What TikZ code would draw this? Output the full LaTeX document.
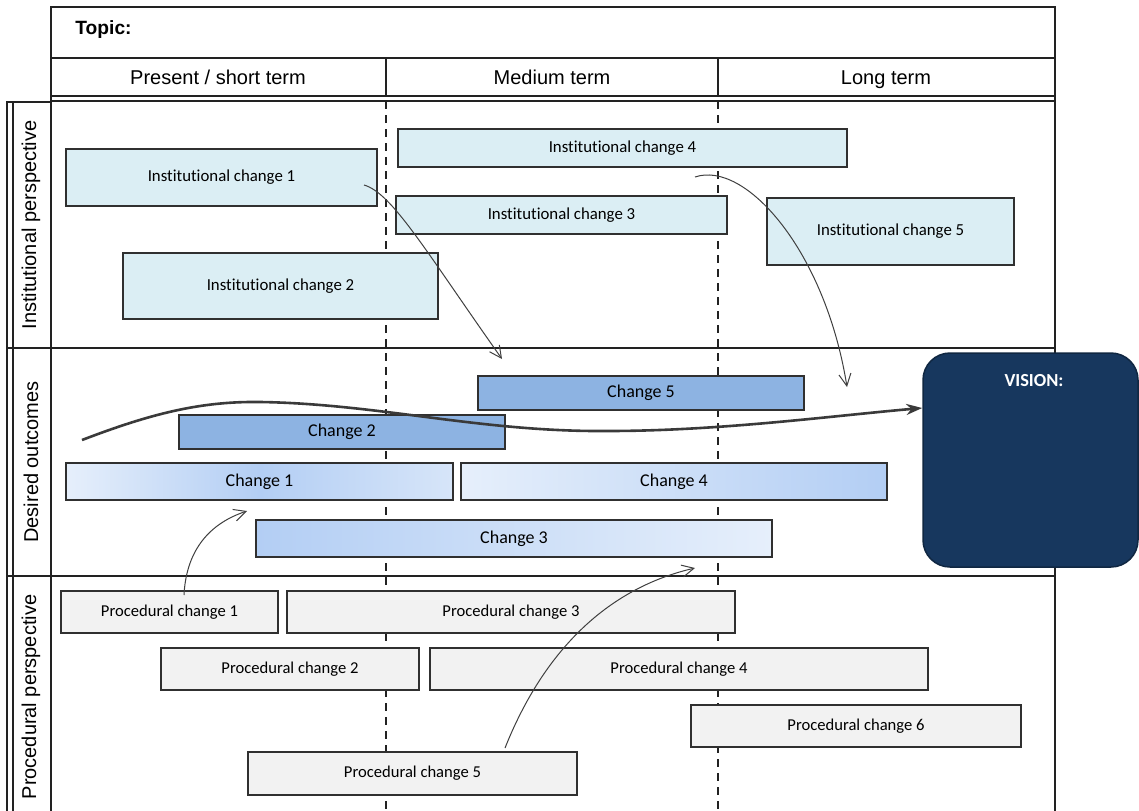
\documentclass[tikz,border=0pt]{standalone}
\usepackage{fontspec}
\setmainfont{Carlito}[Ligatures=NoCommon]
\newfontfamily\arialf{Liberation Sans}
\usetikzlibrary{arrows.meta}
\definecolor{framecol}{HTML}{222222}
\definecolor{bordercol}{HTML}{303030}
\definecolor{instfill}{HTML}{DBEEF4}
\definecolor{procfill}{HTML}{F2F2F2}
\definecolor{midblue}{HTML}{8DB3E2}
\definecolor{lightA}{HTML}{E6EFFB}
\definecolor{darkA}{HTML}{B3CEF4}
\definecolor{visionfill}{HTML}{17375E}
\definecolor{arrowcol}{HTML}{404040}
\newcommand\mybox[7]{%
  \pgfmathsetmacro\bw{(#5-#3)*0.5}\pgfmathsetmacro\bh{(#6-#4)*0.5}%
  \node[#2, minimum width=\bw pt, minimum height=\bh pt] (#1) at ({(#3+#5)/2},{(#4+#6)/2}) {#7};}
\begin{document}
\begin{tikzpicture}[x=0.5pt,y=-0.5pt,
  frame/.style={draw=framecol, line width=0.9pt},
  thinframe/.style={draw=framecol, line width=0.6pt},
  divider/.style={draw=framecol, line width=0.8pt, dash pattern=on 4pt off 3pt},
  basebox/.style={draw=bordercol, line width=0.75pt, rectangle, inner sep=0pt},
  instbox/.style={basebox, fill=instfill, font=\fontsize{8.4}{10}\selectfont},
  procbox/.style={basebox, fill=procfill, font=\fontsize{8.3}{10}\selectfont},
  chgbox/.style={basebox, font=\fontsize{9}{11}\selectfont},
  hdr/.style={font=\arialf\fontsize{10}{12}\selectfont, inner sep=0pt, anchor=base},
  side/.style={font=\arialf\fontsize{10}{12}\selectfont, rotate=90, inner sep=0pt},
  thinarrow/.style={draw=arrowcol, line width=0.5pt, -{Straight Barb[length=6pt,width=6pt]}},
  bigarrow/.style={draw=arrowcol!90!black, line width=1.3pt, -{Stealth[length=8pt,width=5.5pt]}}]
\clip (0,0) rectangle (1139,810);
\fill[white] (0,0) rectangle (1139,810);
% header frame
\draw[frame] (51,812) -- (51,7) -- (1055,7) -- (1055,812);
\draw[frame] (51,58) -- (1055,58);
\draw[frame] (51,96) -- (1055,96);
\draw[thinframe] (51,101) -- (1055,101);
\draw[frame] (386,58) -- (386,96);
\draw[frame] (718,58) -- (718,96);
% left band
\draw[thinframe] (7,812) -- (7,102) -- (51,102);
\draw[thinframe] (13,102) -- (13,812);
\draw[frame] (7,348) -- (1055,348);
\draw[frame] (7,576) -- (1055,576);
% dashed period dividers
\draw[divider] (386,101) -- (386,812);
\draw[divider] (718,101) -- (718,812);
% header texts
\node[hdr, font=\arialf\bfseries\fontsize{9.6}{12}\selectfont, anchor=base west] (topic) at (75,34) {Topic:};
\node[hdr] (short) at (218,84) {Present / short term};
\node[hdr] (medium) at (552,84) {Medium term};
\node[hdr] (long) at (886,84) {Long term};
\node[side] (instlbl) at (31,225) {Institutional perspective};
\node[side] (desirlbl) at (31,462) {Desired outcomes};
\node[side] (proclbl) at (31,697) {Procedural perspective};
% institutional boxes
\mybox{ic1}{instbox}{66}{149}{377}{206}{Institutional change 1}
\mybox{ic2}{instbox}{123}{253}{438}{319}{Institutional change 2}
\mybox{ic3}{instbox}{396}{196}{727}{234}{Institutional change 3}
\mybox{ic4}{instbox}{398}{129}{847}{167}{Institutional change 4}
\mybox{ic5}{instbox}{767}{198}{1014}{265}{Institutional change 5}
% desired outcome boxes
\mybox{c5}{chgbox, fill=midblue}{478}{376}{804}{410}{Change 5}
\mybox{c2}{chgbox, fill=midblue}{179}{415}{505}{449}{Change 2}
\mybox{c1}{chgbox, left color=lightA, right color=lightA!70!darkA, middle color=darkA}{66}{463}{453}{500}{Change 1}
\mybox{c4}{chgbox, left color=lightA, right color=darkA}{461}{463}{887}{500}{Change 4}
\mybox{c3}{chgbox, left color=darkA, right color=lightA}{256}{520}{772}{557}{Change 3}
% vision
\mybox{vision}{basebox, fill=visionfill, draw=visionfill!70!black, rounded corners=13.5pt}{923}{353}{1138}{567}{}
\node[font=\bfseries\fontsize{9.2}{11}\selectfont, text=white, inner sep=0pt] (visionlbl) at (1034,381) {VISION:};
% procedural boxes
\mybox{pc1}{procbox}{61}{591}{278}{633}{Procedural change 1}
\mybox{pc3}{procbox}{287}{591}{735}{633}{Procedural change 3}
\mybox{pc2}{procbox}{161}{648}{419}{690}{Procedural change 2}
\mybox{pc4}{procbox}{430}{648}{928}{690}{Procedural change 4}
\mybox{pc6}{procbox}{691}{705}{1021}{747}{Procedural change 6}
\mybox{pc5}{procbox}{248}{752}{577}{795}{Procedural change 5}
% arrows
\coordinate (a1s) at (364,185); \coordinate (a1e) at (502,359);
\draw[thinarrow] (a1s) .. controls (392,193) and (425,250) .. (a1e);
\coordinate (a2s) at (695,177); \coordinate (a2e) at (847,387);
\draw[thinarrow] (a2s) .. controls (745,160) and (825,250) .. (a2e);
\coordinate (a4s) at (184,595); \coordinate (a4e) at (247,511);
\draw[thinarrow] (a4s) .. controls (186,555) and (205,525) .. (a4e);
\coordinate (a5s) at (505,748); \coordinate (a5e) at (695,568);
\draw[thinarrow] (a5s) .. controls (540,660) and (600,590) .. (a5e);
\coordinate (bs) at (82,440); \coordinate (bm1) at (261,402); \coordinate (bm2) at (607,431);
\draw[bigarrow] (bs) .. controls (150,414) and (200,401) .. (bm1)
  .. controls (380,404) and (480,432) .. (bm2)
  .. controls (720,431) and (830,416) .. (vision.west |- 0,408);
\end{tikzpicture}
\end{document}
